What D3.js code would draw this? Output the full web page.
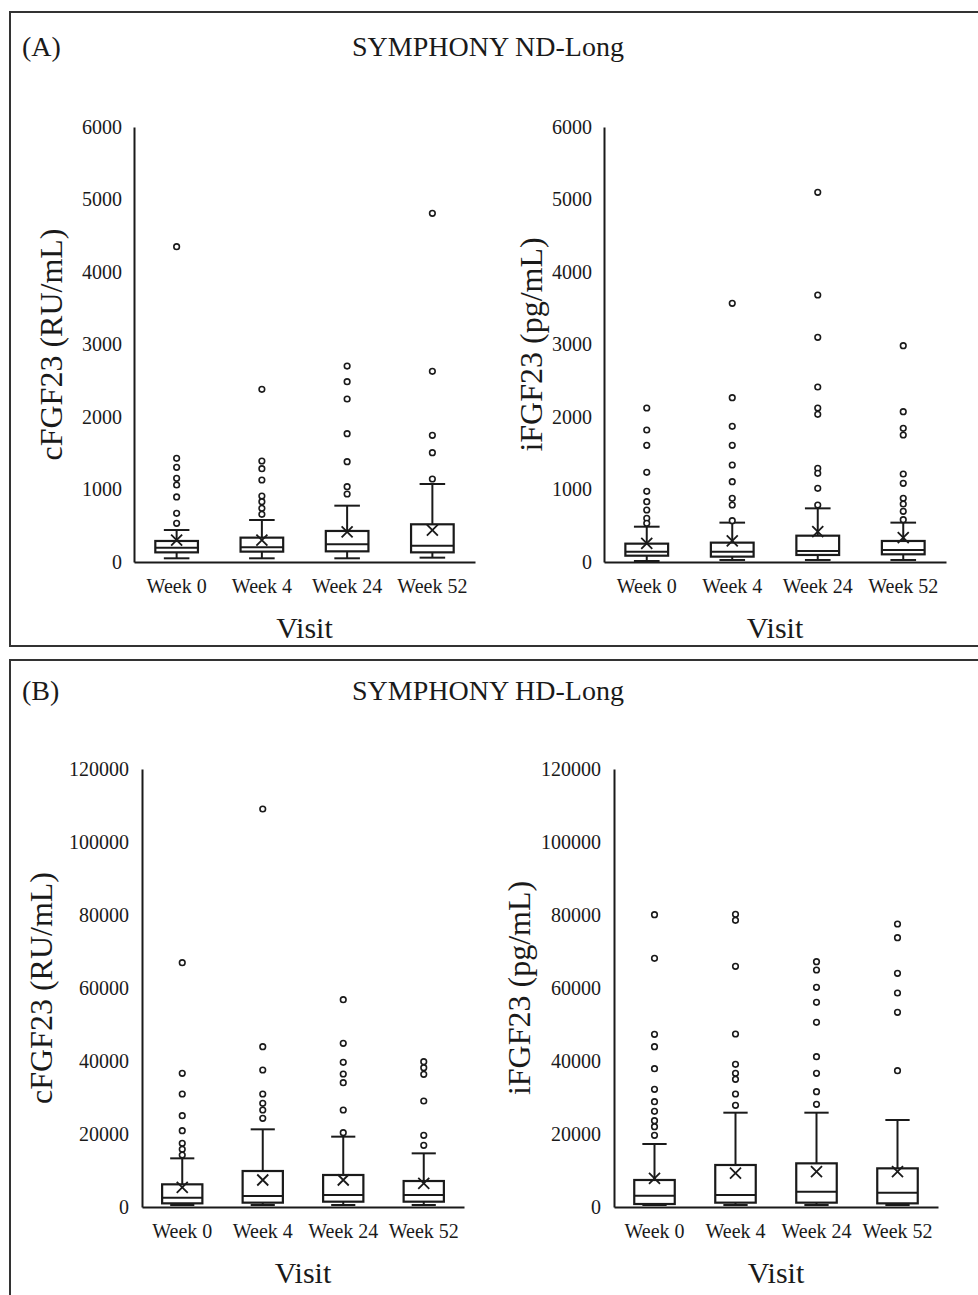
<!DOCTYPE html>
<html>
<head>
<meta charset="utf-8">
<script src="https://cdn.jsdelivr.net/npm/d3@7"></script>
<style>
  body { margin: 0; background: #fff; }
  svg { display: block; font-family: "Liberation Serif", "Times New Roman", serif; }
</style>
</head>
<body>
<svg id="chart" width="978" height="1295"></svg>
<script>
// visits on the x axis
const visits = ["Week 0", "Week 4", "Week 24", "Week 52"];

// box stats per visit: [whisker low, Q1, median, Q3, whisker high]
const ndCBox = [[51, 133, 198, 290, 441], [51, 143, 202, 336, 579], [51, 147, 244, 428, 777], [60, 133, 225, 520, 1076]];
const ndCMean = [303, 303, 414, 441];
const ndCOut = [
  [4350, 1430, 1306, 1154, 1062, 897, 671, 534],
  [2382, 1393, 1287, 1131, 910, 832, 740, 657],
  [2703, 2487, 2248, 1770, 1384, 1039, 938],
  [4809, 2630, 1747, 1508, 1145]
];

const ndIBox = [[14, 87, 143, 253, 487], [28, 74, 143, 267, 543], [28, 97, 152, 363, 740], [28, 106, 166, 290, 543]];
const ndIMean = [257, 290, 418, 336];
const ndIOut = [
  [2124, 1821, 1609, 1237, 975, 832, 717, 602, 534],
  [3568, 2267, 1871, 1609, 1338, 1108, 878, 786, 570],
  [5099, 3683, 3099, 2414, 2124, 2037, 1292, 1223, 1016, 786],
  [2984, 2074, 1844, 1752, 1214, 1085, 878, 800, 699, 584]
];

const hdCBox = [[550, 1000, 2550, 6210, 13330], [550, 1190, 3010, 9860, 21280], [550, 1460, 3290, 8770, 19270], [550, 1460, 3290, 7120, 14700]];
const hdCMean = [5390, 7400, 7400, 6480];
const hdCOut = [
  [66940, 36630, 30960, 25020, 20910, 17450, 15800, 14250],
  [109040, 43930, 37530, 30960, 28400, 26580, 24290],
  [56800, 44840, 39640, 36440, 34060, 26580, 20370],
  [39820, 38180, 36350, 29040, 19630, 16890]
];

const hdIBox = [[550, 820, 3110, 7400, 17260], [550, 1190, 3290, 11510, 25840], [550, 1190, 4200, 11960, 25840], [550, 1000, 3930, 10590, 23840]];
const hdIMean = [7850, 9280, 9680, 9680];
const hdIOut = [
  [80090, 68130, 47310, 43930, 37900, 32240, 28860, 26210, 23650, 22010, 19630],
  [80180, 78540, 65940, 47400, 39090, 36630, 34980, 30960, 27860],
  [67210, 64930, 60190, 56070, 50600, 41190, 36630, 31600, 28140],
  [77530, 73790, 64020, 58630, 53330, 37350]
];

const ndTicks = [0, 1000, 2000, 3000, 4000, 5000, 6000];
const hdTicks = [0, 20000, 40000, 60000, 80000, 100000, 120000];

const svg = d3.select("#chart");
const ink = "#1a1a1a";

// outer frames of the two figure parts
svg.append("rect").attr("x", 10).attr("y", 12).attr("width", 1000).attr("height", 634)
  .attr("fill", "none").attr("stroke", "#333").attr("stroke-width", 2);
svg.append("rect").attr("x", 10).attr("y", 660).attr("width", 1000).attr("height", 700)
  .attr("fill", "none").attr("stroke", "#333").attr("stroke-width", 2);

function heading(letter, title, base) {
  svg.append("text").attr("x", 22).attr("y", base).attr("font-size", 28).attr("fill", ink).text(letter);
  svg.append("text").attr("x", 488).attr("y", base).attr("text-anchor", "middle")
    .attr("font-size", 28).attr("fill", ink).text(title);
}
heading("(A)", "SYMPHONY ND-Long", 56);
heading("(B)", "SYMPHONY HD-Long", 700);

function boxPanel(p) {
  const g = svg.append("g");
  const x = d3.scaleBand().domain(visits).range([p.x0, p.x1]).paddingInner(0.5).paddingOuter(0.25);
  const y = d3.scaleLinear().domain([0, p.max]).range([p.y0, p.yTop]);
  const bw = x.bandwidth();
  const cap = bw * 0.3;

  const rows = visits.map((v, i) => ({ v, s: p.box[i], mean: p.mean[i], out: p.out[i] }));
  const grp = g.selectAll("g.box").data(rows).enter().append("g")
    .attr("transform", d => "translate(" + (x(d.v) + bw / 2) + ",0)");

  // whiskers
  grp.append("line").attr("y1", d => y(d.s[3])).attr("y2", d => y(d.s[4]))
    .attr("stroke", ink).attr("stroke-width", 2);
  grp.append("line").attr("y1", d => y(d.s[1])).attr("y2", d => y(d.s[0]))
    .attr("stroke", ink).attr("stroke-width", 2);
  grp.append("line").attr("x1", -cap).attr("x2", cap).attr("y1", d => y(d.s[4])).attr("y2", d => y(d.s[4]))
    .attr("stroke", ink).attr("stroke-width", 2);
  grp.append("line").attr("x1", -cap).attr("x2", cap).attr("y1", d => y(d.s[0])).attr("y2", d => y(d.s[0]))
    .attr("stroke", ink).attr("stroke-width", 2);

  // box + median
  grp.append("rect").attr("x", -bw / 2).attr("width", bw)
    .attr("y", d => y(d.s[3])).attr("height", d => y(d.s[1]) - y(d.s[3]))
    .attr("fill", "#fff").attr("stroke", ink).attr("stroke-width", 2.2);
  grp.append("line").attr("x1", -bw / 2).attr("x2", bw / 2)
    .attr("y1", d => y(d.s[2])).attr("y2", d => y(d.s[2]))
    .attr("stroke", ink).attr("stroke-width", 2);

  // mean marker
  grp.append("path")
    .attr("d", d => { const m = y(d.mean), r = 5.5; return "M" + (-r) + "," + (m - r) + "L" + r + "," + (m + r) + "M" + r + "," + (m - r) + "L" + (-r) + "," + (m + r); })
    .attr("stroke", ink).attr("stroke-width", 1.8).attr("fill", "none");

  // outliers
  grp.selectAll("circle").data(d => d.out).enter().append("circle")
    .attr("cy", d => y(d)).attr("r", 2.8)
    .attr("fill", "#fff").attr("stroke", ink).attr("stroke-width", 1.6);

  // axes
  const ya = g.append("g").attr("transform", "translate(" + p.x0 + ",0)")
    .call(d3.axisLeft(y).tickValues(p.ticks).tickSize(0).tickPadding(p.tp).tickFormat(d3.format("d")));
  const xa = g.append("g").attr("transform", "translate(0," + p.y0 + ")")
    .call(d3.axisBottom(x).tickSize(0).tickPadding(17));
  [ya, xa].forEach(a => {
    a.select(".domain").attr("stroke", ink).attr("stroke-width", 2);
    a.selectAll("text").attr("font-family", "Liberation Serif").attr("font-size", 20).attr("fill", ink);
  });

  g.append("text").attr("x", (p.x0 + p.x1) / 2).attr("y", p.y0 + 76).attr("text-anchor", "middle")
    .attr("font-size", 30).attr("fill", ink).text("Visit");
  g.append("text").attr("transform", "translate(" + p.tx + "," + ((p.y0 + p.yTop) / 2) + ") rotate(-90)")
    .attr("text-anchor", "middle").attr("font-size", 32).attr("fill", ink).text(p.title);
}

boxPanel({ x0: 134, x1: 475, y0: 562, yTop: 127, max: 6000, ticks: ndTicks, tp: 12, tx: 62,
  box: ndCBox, mean: ndCMean, out: ndCOut, title: "cFGF23 (RU/mL)" });
boxPanel({ x0: 604, x1: 946, y0: 562, yTop: 127, max: 6000, ticks: ndTicks, tp: 12, tx: 542,
  box: ndIBox, mean: ndIMean, out: ndIOut, title: "iFGF23 (pg/mL)" });
boxPanel({ x0: 142, x1: 464, y0: 1207, yTop: 769, max: 120000, ticks: hdTicks, tp: 13, tx: 52,
  box: hdCBox, mean: hdCMean, out: hdCOut, title: "cFGF23 (RU/mL)" });
boxPanel({ x0: 614, x1: 938, y0: 1207, yTop: 769, max: 120000, ticks: hdTicks, tp: 13, tx: 530,
  box: hdIBox, mean: hdIMean, out: hdIOut, title: "iFGF23 (pg/mL)" });
</script>
</body>
</html>
